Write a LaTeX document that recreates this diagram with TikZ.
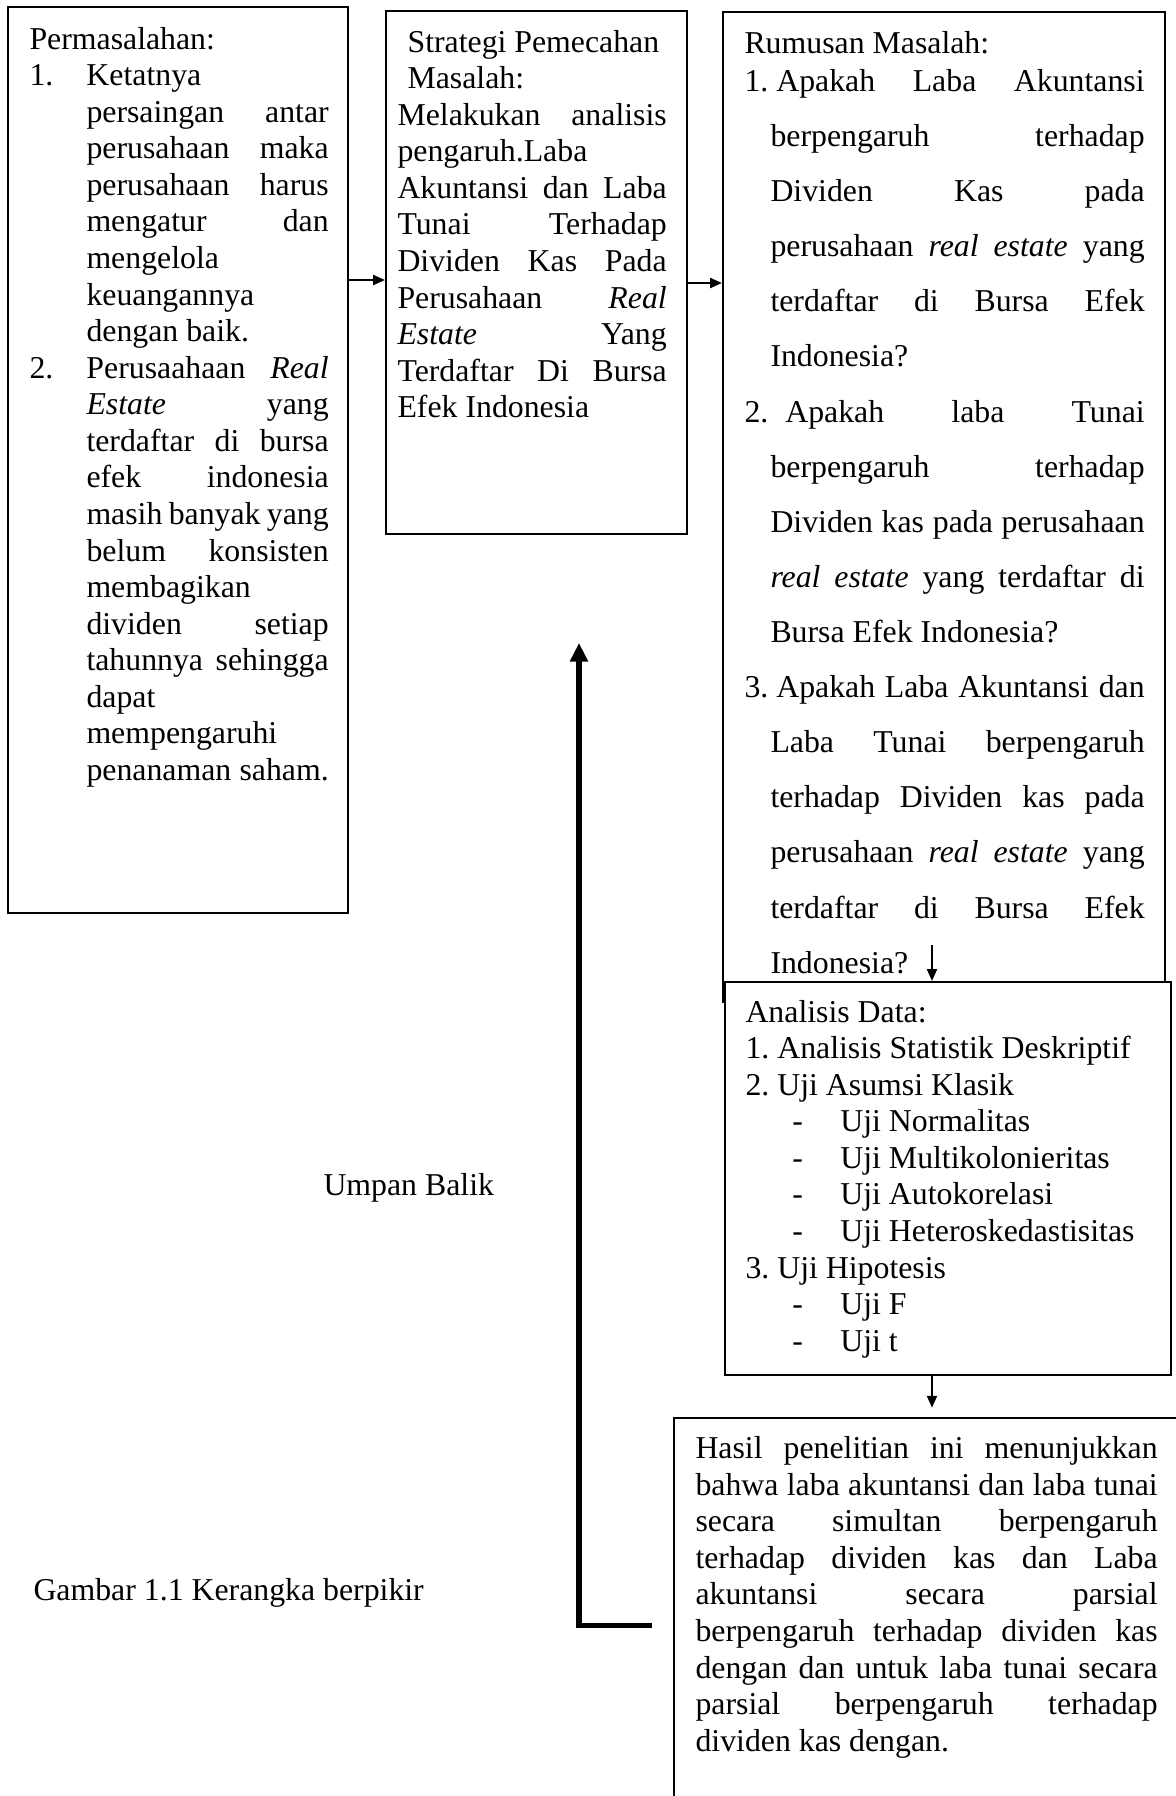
\documentclass[tikz,border=0pt]{standalone}
\usepackage{fontspec}
\setmainfont{Liberation Serif}
\usepackage{xcolor}
\usepackage{tikz}
\usetikzlibrary{arrows.meta,positioning,fit}
\setlength{\parindent}{0pt}
\setlength{\parskip}{0pt}
\frenchspacing
\tikzset{
  box/.style      = {draw=black, line width=0.8pt, fill=white, inner sep=0pt},
  body/.style     = {inner sep=0pt, anchor=north west, align=left,
                     font=\fontsize{12}{13.8}\selectfont},
  caption/.style  = {inner sep=0pt, anchor=base west,
                     font=\fontsize{12}{13.8}\selectfont},
  flow/.style     = {-{Triangle[length=4.5pt,width=3.8pt]}, line width=0.75pt},
  loopback/.style = {-{Triangle[length=7pt,width=6.5pt]}, line width=1.9pt},
}
% start of a text block, list number, continuation indent, justified line
\newcommand{\mulai}{\spaceskip=0pt\relax\strut}
\newcommand{\nomor}[1]{\leavevmode\rlap{#1}}
\newcommand{\lanjut}[1][21.5pt]{\hspace*{#1}}
\newcommand{\rata}[2][0pt]{\hspace*{#1}%
  \makebox[\dimexpr\hsize-#1\relax][s]{\spaceskip=0.25em plus 1fil minus 0.1em\relax #2}}

\begin{document}
\begin{tikzpicture}[x=0.37736pt, y=-0.37736pt]
\useasboundingbox (0,0) rectangle (1176,1796);
% frames (pixel grid of the page, y runs downwards)
\node[box, fit={(8,7) (348,913)}] (masalah) {};
\node[box, fit={(386,11) (687,534)}] (strategi) {};
\node[box, fit={(723,12) (1165,1002)}] (rumusan) {};
\node[box, fit={(725,982) (1171,1375)}] (analisis) {};
\node[box, fit={(674,1418) (1220,1840)}] (hasil) {};

% texts
\node[body, text width=112.9pt] (masalahtxt) at (29,23) {\mulai Permasalahan:\\
\nomor{1.}\lanjut Ketatnya\\
\rata[21.5pt]{persaingan antar}\\
\rata[21.5pt]{perusahaan maka}\\
\rata[21.5pt]{perusahaan harus}\\
\rata[21.5pt]{mengatur dan}\\
\lanjut mengelola\\
\lanjut keuangannya\\
\lanjut dengan baik.\\
\nomor{2.}\rata[21.5pt]{Perusaahaan \textit{Real}}\\
\rata[21.5pt]{\textit{Estate} yang}\\
\rata[21.5pt]{terdaftar di bursa}\\
\rata[21.5pt]{efek indonesia}\\
\rata[21.5pt]{masih banyak yang}\\
\rata[21.5pt]{belum konsisten}\\
\lanjut membagikan\\
\rata[21.5pt]{dividen setiap}\\
\rata[21.5pt]{tahunnya sehingga}\\
\lanjut dapat\\
\lanjut mempengaruhi\\
\rata[21.5pt]{penanaman saham.}};

\node[body, text width=101.6pt] (strategitxt) at (397,26) {\mulai\hspace*{3.8pt}Strategi Pemecahan\\
\hspace*{3.8pt}Masalah:\\
\rata{Melakukan analisis}\\
pengaruh.Laba\\
\rata{Akuntansi dan Laba}\\
\rata{Tunai Terhadap}\\
\rata{Dividen Kas Pada}\\
\rata{Perusahaan \textit{Real}}\\
\rata{\textit{Estate} Yang}\\
\rata{Terdaftar Di Bursa}\\
Efek Indonesia};

\node[body, text width=151pt, font=\fontsize{12}{20.8}\selectfont] (rumusantxt) at (744,14.3) {\mulai Rumusan Masalah:\\[-6.5pt]
\rata{1.\hspace{3pt}Apakah Laba Akuntansi}\\
\rata[9.8pt]{berpengaruh terhadap}\\
\rata[9.8pt]{Dividen Kas pada}\\
\rata[9.8pt]{perusahaan \textit{real estate} yang}\\
\rata[9.8pt]{terdaftar di Bursa Efek}\\
\lanjut[9.8pt]Indonesia?\\
\rata{2.\hspace{6.4pt}Apakah laba Tunai}\\
\rata[9.8pt]{berpengaruh terhadap}\\
\rata[9.8pt]{Dividen kas pada perusahaan}\\
\rata[9.8pt]{\textit{real estate} yang terdaftar di}\\
\lanjut[9.8pt]Bursa Efek Indonesia?\\
\rata{3.\hspace{3pt}Apakah Laba Akuntansi dan}\\
\rata[9.8pt]{Laba Tunai berpengaruh}\\
\rata[9.8pt]{terhadap Dividen kas pada}\\
\rata[9.8pt]{perusahaan \textit{real estate} yang}\\
\rata[9.8pt]{terdaftar di Bursa Efek}\\
\lanjut[9.8pt]Indonesia?};

\node[body, text width=160pt] (analisistxt) at (745,996) {\mulai Analisis Data:\\
1. Analisis Statistik Deskriptif\\
2. Uji Asumsi Klasik\\
\lanjut[17.7pt]\makebox[18.1pt][l]{-}Uji Normalitas\\
\lanjut[17.7pt]\makebox[18.1pt][l]{-}Uji Multikolonieritas\\
\lanjut[17.7pt]\makebox[18.1pt][l]{-}Uji Autokorelasi\\
\lanjut[17.7pt]\makebox[18.1pt][l]{-}Uji Heteroskedastisitas\\
3. Uji Hipotesis\\
\lanjut[17.7pt]\makebox[18.1pt][l]{-}Uji F\\
\lanjut[17.7pt]\makebox[18.1pt][l]{-}Uji t};

\node[body, text width=174.4pt] (hasiltxt) at (695,1432.5) {\mulai\rata{Hasil penelitian ini menunjukkan}\\
\rata{bahwa laba akuntansi dan laba tunai}\\
\rata{secara simultan berpengaruh}\\
\rata{terhadap dividen kas dan Laba}\\
\rata{akuntansi secara parsial}\\
\rata{berpengaruh terhadap dividen kas}\\
\rata{dengan dan untuk laba tunai secara}\\
\rata{parsial berpengaruh terhadap}\\
dividen kas dengan.};

\node[caption] (umpan) at (323,1195) {Umpan Balik};
\node[caption] (gambar) at (33,1600) {Gambar 1.1 Kerangka berpikir};

% connectors
\coordinate (baris1) at (0,280);
\coordinate (baris2) at (0,283);
\coordinate (turun) at (932,945);
\coordinate (balikawal) at (652,1625);
\coordinate (balikujung) at (579,643);

\draw[flow] (masalah.east |- baris1) -- (strategi.west |- baris1);
\draw[flow] (strategi.east |- baris2) -- (rumusan.west |- baris2);
\draw[flow] (turun) -- (turun |- analisis.north);
\draw[flow, shorten >=3.5pt] (analisis.south -| turun) -- (hasil.north -| turun);
% feedback line back to the strategy
\draw[loopback] (balikawal) -| (balikujung);
\end{tikzpicture}
\end{document}
